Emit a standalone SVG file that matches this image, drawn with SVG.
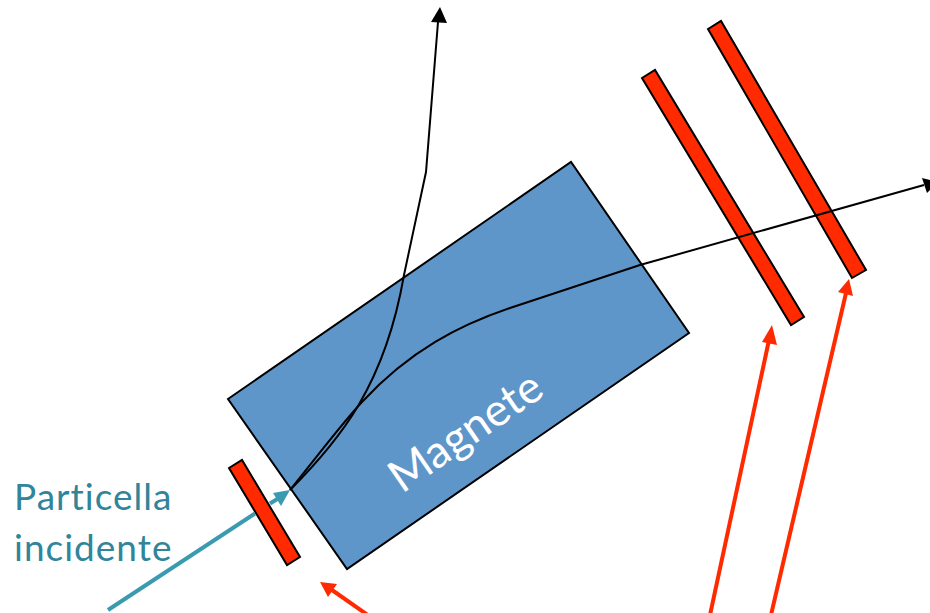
<svg xmlns="http://www.w3.org/2000/svg" width="930" height="613" viewBox="0 0 930 613">
<style>
.det{fill:#ff2a00;stroke:#000;stroke-width:2}
.trk{fill:none;stroke:#000;stroke-width:2}
.red{stroke:#ff2a00;stroke-width:4;fill:none}
.redh{fill:#ff2a00}
.teal{stroke:#3a9bb0;stroke-width:4;fill:none}
.lab{font-family:Lato,"Open Sans","Liberation Sans",sans-serif;font-size:37px;letter-spacing:1px;fill:#31859b}
</style>
<rect width="930" height="613" fill="#fff"/>
<g id="magnet">
<polygon points="228,399 571,162 689,333 347,569" fill="#5f96ca" stroke="#000" stroke-width="2"/>
<text transform="translate(402,494) rotate(-34.6)" font-family="Lato,'Open Sans','Liberation Sans',sans-serif" font-size="45" fill="#fff">Magnete</text>
</g>
<g id="det-entry"><polygon class="det" points="229,468 242,460 300,557 287,565"/></g>
<g id="det-1"><polygon class="det" points="642,78 655,70 804,317 791,325"/></g>
<g id="det-2"><polygon class="det" points="708,29 721,21 866,270 852,278"/></g>
<g id="label"><text class="lab" x="14" y="510">Particella</text><text class="lab" x="14" y="561">incidente</text></g>
<g id="connectors">
<path class="trk" d="M290,490 C330,440 345,420 362,402 C410,350 460,325 510,308 L640,265 L924,185"/>
<polygon points="938,182 922,178 927,193" fill="#000"/>
<path class="trk" d="M290,490 C340,440 385,385 404,275 L426,172 L438,22"/>
<polygon points="440,7 431,22 447,23" fill="#000"/>
<line class="teal" x1="108" y1="610" x2="255" y2="513.5"/>
<line class="teal" x1="270" y1="503.5" x2="279" y2="498"/>
<polygon points="290,490 273,493 281,506" fill="#3a9bb0"/>
<line class="red" x1="372" y1="618" x2="332" y2="590"/>
<polygon class="redh" points="320,582 337,584 328,597"/>
<line class="red" x1="710" y1="615" x2="769" y2="340"/>
<polygon class="redh" points="772,325 762,342 777,345"/>
<line class="red" x1="771" y1="615" x2="846" y2="293"/>
<polygon class="redh" points="849,279 838,292 853,296"/>
</g>
</svg>
